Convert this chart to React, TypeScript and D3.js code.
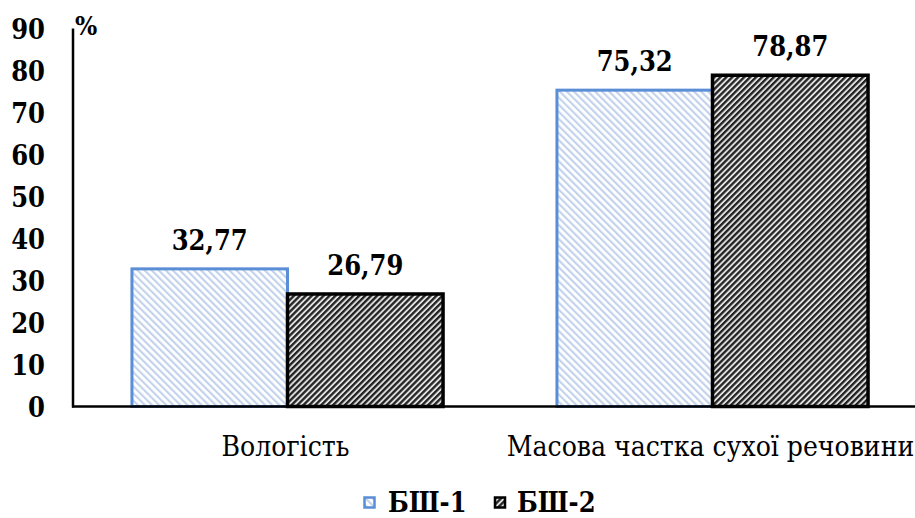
import React from "react";
import * as d3 from "d3";

const categories = ["Вологість", "Масова частка сухої речовини"];
const seriesNames = ["БШ-1", "БШ-2"];
const bsh1 = [32.77, 75.32];
const bsh2 = [26.79, 78.87];
const yTicks = [0, 10, 20, 30, 40, 50, 60, 70, 80, 90];

const W = 915;
const H = 518;
const axisX = 73;
const y0 = 406.5;
const yTop = 28.5;
const serif = "'DejaVu Serif Condensed', 'DejaVu Serif', serif";

const textStyle: React.CSSProperties = { fontFamily: serif, fontStretch: "condensed" };

export default function App() {
  const y = d3.scaleLinear().domain([0, 90]).range([y0, yTop]);
  const x = d3.scaleBand<string>().domain(categories).range([75, 925]).paddingInner(0.268).paddingOuter(0.134);
  const inner = d3.scaleBand<string>().domain(seriesNames).range([0, x.bandwidth()]);
  const values = [bsh1, bsh2];
  const fmt = (v: number) => v.toFixed(2).replace(".", ",");

  return (
    <svg width={W} height={H} style={{ position: "absolute", left: 0, top: 0, background: "#fff" }}>
      <defs>
        <pattern id="p1" patternUnits="userSpaceOnUse" width="5" height="5" patternTransform="rotate(-45)">
          <rect width="5" height="5" fill="#fff" />
          <rect width="2.2" height="5" fill="#c3d3ec" />
        </pattern>
        <pattern id="p2" patternUnits="userSpaceOnUse" width="4.2" height="4.2" patternTransform="rotate(45)">
          <rect width="4.2" height="4.2" fill="#e0e0e0" />
          <rect width="2.3" height="4.2" fill="#222" />
        </pattern>
      </defs>

      {categories.map((c, ci) =>
        seriesNames.map((s, si) => {
          const v = values[si][ci];
          const bx = (x(c) ?? 0) + (inner(s) ?? 0);
          const bw = inner.bandwidth();
          const top = y(v);
          return (
            <g key={c + s}>
              <rect
                x={bx}
                y={top}
                width={bw}
                height={y0 - top}
                fill={si === 0 ? "url(#p1)" : "url(#p2)"}
                stroke={si === 0 ? "#5a8ed6" : "#000"}
                strokeWidth={si === 0 ? 3 : 3.5}
              />
              <text
                x={bx + bw / 2}
                y={top - 19}
                textAnchor="middle"
                fontWeight="bold"
                fontSize={27}
                style={textStyle}
              >
                {fmt(v)}
              </text>
            </g>
          );
        })
      )}

      {/* axes */}
      <line x1={axisX} x2={axisX} y1={yTop} y2={y0 + 1} stroke="#000" strokeWidth={2.5} />
      <line x1={axisX - 1} x2={W} y1={y0} y2={y0} stroke="#000" strokeWidth={2.5} />

      {yTicks.map((t) => (
        <text key={t} x={45} y={y(t) + 10} textAnchor="end" fontWeight="bold" fontSize={27} style={textStyle}>
          {t}
        </text>
      ))}
      <text x={75} y={35} fontWeight="bold" fontSize={26} style={textStyle}>%</text>

      {categories.map((c) => (
        <text key={c} x={(x(c) ?? 0) + x.bandwidth() / 2 - 2} y={456} textAnchor="middle" fontSize={28} style={textStyle}>
          {c}
        </text>
      ))}

      {/* legend */}
      <g>
        <rect x={364.5} y={497.5} width={10} height={10} fill="url(#p1)" stroke="#5a8ed6" strokeWidth={2.5} />
        <text x={388} y={512} fontWeight="bold" fontSize={27} style={textStyle}>{seriesNames[0]}</text>
        <rect x={495} y={497.5} width={10} height={10} fill="url(#p2)" stroke="#000" strokeWidth={2.5} />
        <text x={517} y={512} fontWeight="bold" fontSize={27} style={textStyle}>{seriesNames[1]}</text>
      </g>
    </svg>
  );
}
